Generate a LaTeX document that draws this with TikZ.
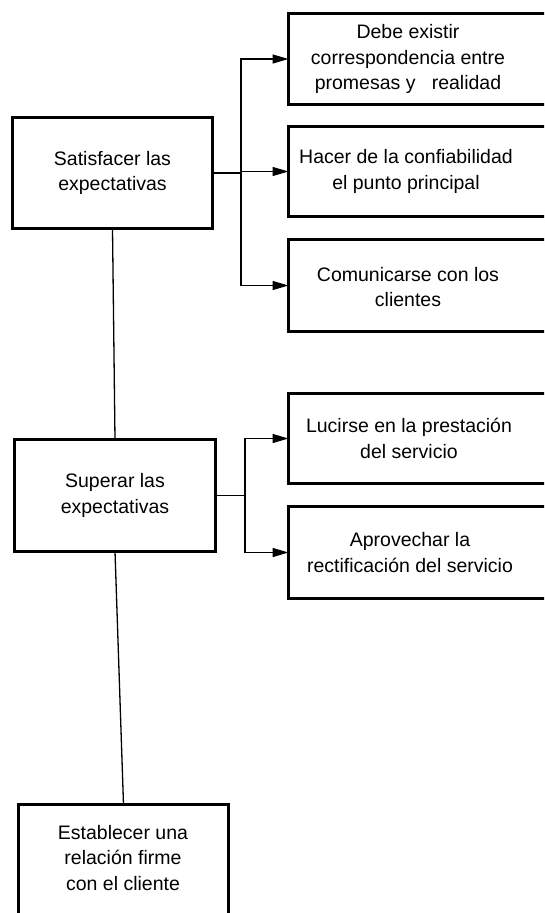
\documentclass[tikz,border=0pt]{standalone}
\usepackage{fontspec}
\setmainfont{Liberation Sans}
\usetikzlibrary{arrows.meta}
\tikzset{
  boxs/.style={draw=black, line width=3pt, fill=white, inner sep=0pt, outer sep=0pt},
  txt/.style={align=center, inner sep=0pt, font=\fontsize{19.5}{25.5}\selectfont},
  conn/.style={draw=black, line width=1.3pt},
  arr/.style={conn, -{Triangle[length=16pt,width=9pt]}}
}
\begin{document}
\begin{tikzpicture}[x=1pt,y=-1pt]
\useasboundingbox (0,0) rectangle (544,913);
\clip (0,0) rectangle (544,913);
\fill[white] (0,0) rectangle (544,913);
% left boxes
\node[boxs, minimum width=200pt, minimum height=111pt] (L1) at (112.5,173) {};
\node[txt] (L1t) at (L1.center) {Satisfacer las\\expectativas};
\node[boxs, minimum width=201pt, minimum height=112pt] (L2) at (115,495.5) {};
\node[txt] (L2t) at (L2.center) {Superar las\\expectativas};
\node[boxs, minimum width=210pt, minimum height=135.5pt] (L3) at (123.5,872.25) {};
\node[txt] (L3t) at (123,858) {Establecer una\\relación firme\\con el cliente};
% right boxes
\node[boxs, minimum width=281.5pt, minimum height=91pt] (R1) at (429.25,59) {};
\node[txt] (R1t) at (408,59) {Debe existir\\correspondencia entre\\promesas y~~~realidad};
\node[boxs, minimum width=281.5pt, minimum height=90pt] (R2) at (429.25,171.5) {};
\node[txt] (R2t) at (406,171.5) {Hacer de la confiabilidad\\el punto principal};
\node[boxs, minimum width=281.5pt, minimum height=92pt] (R3) at (429.25,285.5) {};
\node[txt] (R3t) at (408,287) {Comunicarse con los\\clientes};
\node[boxs, minimum width=281.5pt, minimum height=90pt] (R4) at (429.25,438.5) {};
\node[txt] (R4t) at (409,438.5) {Lucirse en la prestación\\del servicio};
\node[boxs, minimum width=281.5pt, minimum height=92pt] (R5) at (429.25,552.5) {};
\node[txt] (R5t) at (410,552.5) {Aprovechar la\\rectificación del servicio};
% junctions
\coordinate (j1) at (241,173);
\coordinate (j2) at (245,495.5);
% connectors
\draw[conn] (L1.east) -- (j1);
\draw[arr] (j1) |- (R1.west);
\draw[arr] (j1) -- (j1 |- R2.west) -- (R2.west);
\draw[arr] (j1) |- (R3.west);
\draw[conn] (L2.east) -- (j2);
\draw[arr] (j2) |- (R4.west);
\draw[arr] (j2) |- (R5.west);
\draw[conn] (L1.south) -- (L2.north);
\draw[conn] (L2.south) -- (L3.north);
\end{tikzpicture}
\end{document}
